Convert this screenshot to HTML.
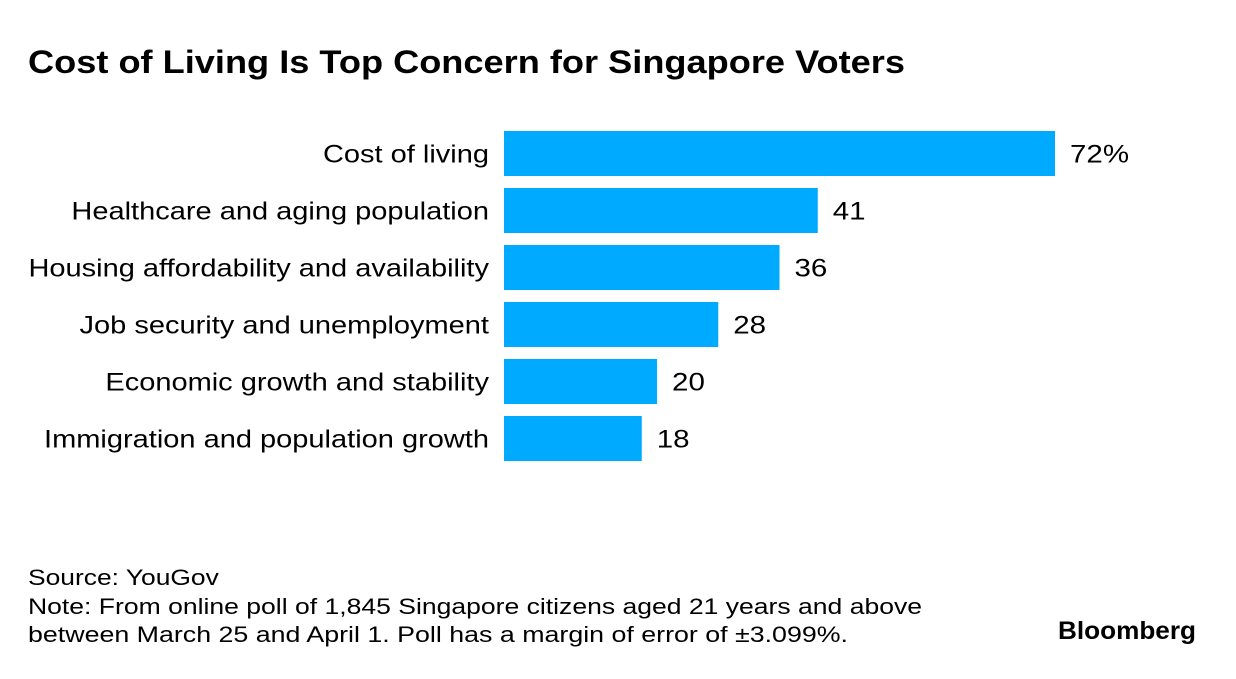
<!DOCTYPE html>
<html><head><meta charset="utf-8">
<style>
body{margin:0;background:#fff;width:1236px;height:674px;overflow:hidden;font-family:"Liberation Sans",Arial,sans-serif;color:#000}
</style></head>
<body>
<svg id="svg" width="1236" height="674">
<text x="28" y="73" font-size="32" font-weight="bold" data-w="877">Cost of Living Is Top Concern for Singapore Voters</text>
<g id="bars"></g>
<text x="28" y="585" font-size="22" data-f="1.2">Source: YouGov</text>
<text x="28" y="614" font-size="22" data-w="894">Note: From online poll of 1,845 Singapore citizens aged 21 years and above</text>
<text x="28" y="642" font-size="22" data-w="820">between March 25 and April 1. Poll has a margin of error of ±3.099%.</text>
<text x="1058" y="639" font-size="25" font-weight="bold" data-w="138">Bloomberg</text>
</svg>
<script>
const categories=["Cost of living","Healthcare and aging population","Housing affordability and availability","Job security and unemployment","Economic growth and stability","Immigration and population growth"];
const values=[72,41,36,28,20,18];
const valueLabels=["72%","41","36","28","20","18"];
const ns="http://www.w3.org/2000/svg";
const g=document.getElementById("bars");
const x0=504,scale=551/72,y0=131,pitch=57,bh=45;
function xs(v){return v*scale;}
categories.forEach((c,i)=>{
  const y=y0+i*pitch;
  const r=document.createElementNS(ns,"rect");
  r.setAttribute("x",x0);r.setAttribute("y",y);r.setAttribute("width",xs(values[i]));r.setAttribute("height",bh);r.setAttribute("fill","#00aaff");
  
  
  g.appendChild(r);
  const t=document.createElementNS(ns,"text");
  t.setAttribute("x",489);t.setAttribute("y",y+bh/2+9);t.setAttribute("font-size","25");t.setAttribute("text-anchor","end");
  t.setAttribute("data-f","1.16");
  t.textContent=c;
  
  
  g.appendChild(t);
  const v=document.createElementNS(ns,"text");
  v.setAttribute("x",x0+xs(values[i])+15);v.setAttribute("y",y+bh/2+9);v.setAttribute("font-size","25");
  v.setAttribute("data-f","1.18");
  v.textContent=valueLabels[i];
  
  
  g.appendChild(v);
});
document.querySelectorAll("#svg text").forEach(t=>{
  const L=t.getComputedTextLength();
  let w=null;
  if(t.dataset.w) w=+t.dataset.w;
  else if(t.dataset.f) w=L*(+t.dataset.f);
  if(w){t.setAttribute("textLength",w);t.setAttribute("lengthAdjust","spacingAndGlyphs");}
});
</script>
</body></html>
